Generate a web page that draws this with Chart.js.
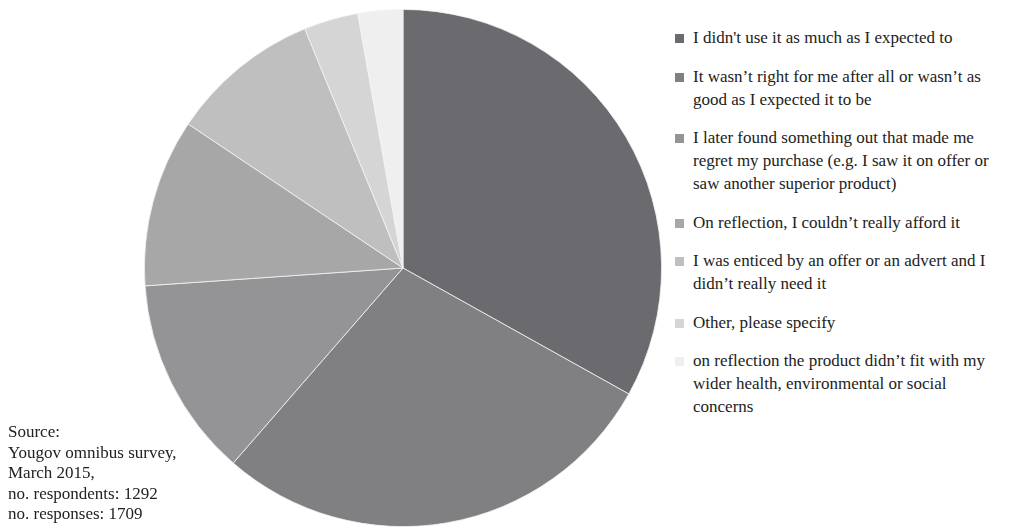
<!DOCTYPE html>
<html>
<head>
<meta charset="utf-8">
<script src="https://cdn.jsdelivr.net/npm/chart.js@4"></script>
<style>
  body { margin: 0; width: 1023px; height: 529px; background: #fff; position: relative; overflow: hidden;
         font-family: "Liberation Serif", "DejaVu Serif", serif; color: #222; }
  #pieBox { position: absolute; left: 144px; top: 9px; width: 518px; height: 518px; }
  #legend { position: absolute; left: 675px; top: 26px; width: 348px; font-size: 17px; line-height: 23px; white-space: nowrap; }
  .item { position: relative; padding-left: 18px; margin-bottom: 15.5px; }
  .box { position: absolute; left: 0; top: 8px; width: 9px; height: 9px; }
  #source { position: absolute; left: 8px; top: 422px; font-size: 17px; line-height: 20.5px; }
</style>
</head>
<body>
<div id="pieBox"><canvas id="myChart"></canvas></div>
<div id="legend"></div>
<div id="source"></div>
<script>
// reasons for regretting a purchase (share of responses, %)
var labels = [
    ["I didn't use it as much as I expected to"],
    ["It wasn\u2019t right for me after all or wasn\u2019t as", "good as I expected it to be"],
    ["I later found something out that made me", "regret my purchase (e.g. I saw it on offer or", "saw another superior product)"],
    ["On reflection, I couldn\u2019t really afford it"],
    ["I was enticed by an offer or an advert and I", "didn\u2019t really need it"],
    ["Other, please specify"],
    ["on reflection the product didn\u2019t fit with my", "wider health, environmental or social", "concerns"]
];
var values = [33.1, 28.3, 12.5, 10.5, 9.4, 3.4, 2.8];
var colors = ['#6b6b6f', '#808083', '#949496', '#a7a7a8', '#bfbfbf', '#d5d5d5', '#efefef'];
var sourceLines = ['Source:', 'Yougov omnibus survey,', 'March 2015,', 'no. respondents: 1292', 'no. responses: 1709'];

var ctx = document.getElementById('myChart').getContext('2d');
var myChart = new Chart(ctx, {
    type: 'pie',
    data: {
        labels: labels,
        datasets: [{
            data: values,
            backgroundColor: colors,
            borderColor: '#f4f4f4',
            borderWidth: 0.8
        }]
    },
    options: {
        responsive: true,
        maintainAspectRatio: false,
        animation: false,
        layout: { padding: 0 },
        plugins: {
            legend: { display: false },
            tooltip: { enabled: false }
        }
    }
});

// legend on the right (labels wrap, so it is built in html)
var legend = document.getElementById('legend');
labels.forEach(function (lines, i) {
    var d = document.createElement('div');
    d.className = 'item';
    d.innerHTML = '<span class="box" style="background:' + colors[i] + '"></span>' + lines.join('<br>');
    legend.appendChild(d);
});

document.getElementById('source').innerHTML = sourceLines.join('<br>');
</script>
</body>
</html>
